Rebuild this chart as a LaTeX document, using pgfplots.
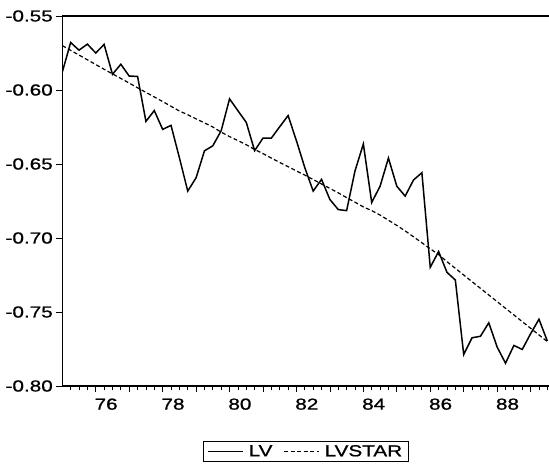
\documentclass[border=0pt]{standalone}
\usepackage{fontspec}
\setmainfont{Liberation Sans}
\newfontfamily\chartfont[FakeStretch=1.3, FakeBold=1]{Liberation Sans}
\usepackage{pgfplots}
\usepackage{pgfplotstable}
\pgfplotsset{compat=1.18}
\usetikzlibrary{calc}

% quarterly observations, 1974Q4 - 1989Q1 (t = year + (quarter-1)/4)
\pgfplotstableread{
t     lv      lvstar
74.75 -0.5879 -0.5700
75.00 -0.5679 -0.5732
75.25 -0.5731 -0.5764
75.50 -0.5690 -0.5796
75.75 -0.5750 -0.5828
76.00 -0.5692 -0.5860
76.25 -0.5894 -0.5891
76.50 -0.5826 -0.5922
76.75 -0.5906 -0.5953
77.00 -0.5908 -0.5985
77.25 -0.6212 -0.6016
77.50 -0.6139 -0.6047
77.75 -0.6266 -0.6078
78.00 -0.6239 -0.6110
78.25 -0.6457 -0.6142
78.50 -0.6683 -0.6167
78.75 -0.6593 -0.6195
79.00 -0.6411 -0.6222
79.25 -0.6377 -0.6250
79.50 -0.6275 -0.6285
79.75 -0.6060 -0.6315
80.00 -0.6140 -0.6342
80.25 -0.6219 -0.6370
80.50 -0.6410 -0.6402
80.75 -0.6325 -0.6430
81.00 -0.6325 -0.6460
81.25 -0.6248 -0.6490
81.50 -0.6173 -0.6518
81.75 -0.6343 -0.6547
82.00 -0.6525 -0.6575
82.25 -0.6683 -0.6605
82.50 -0.6604 -0.6635
82.75 -0.6740 -0.6665
83.00 -0.6808 -0.6695
83.25 -0.6815 -0.6727
83.50 -0.6547 -0.6758
83.75 -0.6365 -0.6790
84.00 -0.6760 -0.6815
84.25 -0.6650 -0.6845
84.50 -0.6460 -0.6880
84.75 -0.6650 -0.6915
85.00 -0.6717 -0.6952
85.25 -0.6608 -0.6992
85.50 -0.6559 -0.7032
85.75 -0.7198 -0.7073
86.00 -0.7091 -0.7112
86.25 -0.7232 -0.7160
86.50 -0.7284 -0.7205
86.75 -0.7787 -0.7250
87.00 -0.7674 -0.7295
87.25 -0.7664 -0.7340
87.50 -0.7573 -0.7385
87.75 -0.7737 -0.7430
88.00 -0.7846 -0.7475
88.25 -0.7726 -0.7520
88.50 -0.7753 -0.7565
88.75 -0.7647 -0.7610
89.00 -0.7549 -0.7655
89.25 -0.7696 -0.7700
}\datatable

\begin{document}
\begin{tikzpicture}
\begin{axis}[
  scale only axis,
  width=486.7bp, height=370bp,
  xmin=74.75, xmax=89.30,
  ymin=-0.80, ymax=-0.55,
  axis x line*=box, axis y line*=left,
  xtick pos=bottom, ytick pos=left,
  axis line style={line width=1.5bp},
  tick align=outside,
  tick style={black, line width=0.8bp},
  major tick length=6bp, minor tick length=3.5bp,
  xtick={75.75,76.75,...,88.75},
  xticklabels={},
  minor xtick={75,75.25,...,89.25},
  extra x ticks={76,78,80,82,84,86,88},
  extra x tick labels={76,78,80,82,84,86,88},
  extra x tick style={major tick length=0pt},
  xticklabel style={yshift=-9bp, xshift=2bp},
  ytick={-0.80,-0.75,-0.70,-0.65,-0.60,-0.55},
  /pgf/number format/fixed,
  /pgf/number format/fixed zerofill,
  /pgf/number format/precision=2,
  /pgf/number format/assume math mode=true,
  tick label style={font=\chartfont\fontsize{16}{19}\selectfont, black},
  legend columns=2,
  legend cell align=left,
  legend style={at={(0.5,-0.148)}, anchor=north, draw=black,
    line width=0.8bp, font=\chartfont\fontsize{16}{19}\selectfont,
    inner xsep=4bp, inner ysep=2bp,
    /tikz/every odd column/.append style={column sep=3bp},
    /tikz/every even column/.append style={column sep=9bp}},
  legend image code/.code={\draw[#1] (0bp,0bp) -- (35bp,0bp);},
]
\addplot[black, line width=1.5bp] table[x=t, y=lv] {\datatable};
\addlegendentry{LV}
\addplot[black, line width=1.2bp, dash pattern=on 4bp off 2.5bp] table[x=t, y=lvstar] {\datatable};
\addlegendentry{LVSTAR}
\end{axis}
\pgfresetboundingbox
\path[use as bounding box] ($(current axis.south west)+(-62.3bp,-81bp)$) rectangle ($(current axis.north east)+(0bp,16bp)$);
\end{tikzpicture}
\end{document}
